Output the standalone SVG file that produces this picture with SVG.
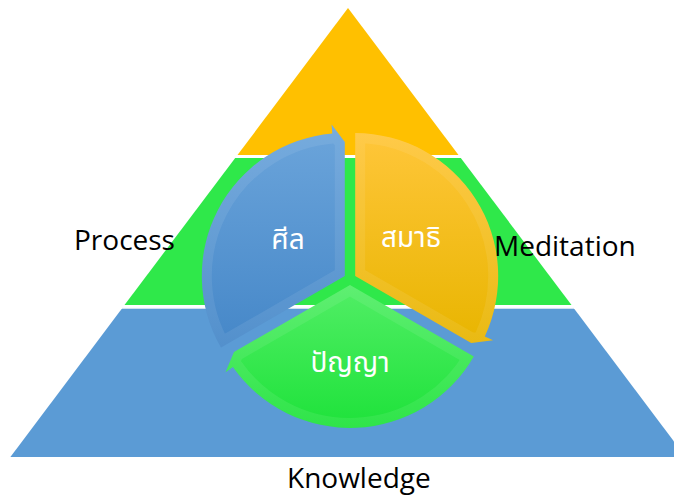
<svg xmlns="http://www.w3.org/2000/svg" width="674" height="498" viewBox="0 0 674 498">
  <style>
    .label { font-family: "Open Sans", "Noto Sans", "Liberation Sans", sans-serif; font-size: 28px; fill: #000000; }
    .thai { font-family: "Noto Sans Thai", "Noto Sans", "DejaVu Sans", sans-serif; font-size: 28px; fill: #ffffff; text-anchor: middle; }
    .bevel { fill: none; stroke: #ffffff; stroke-opacity: 0.08; stroke-width: 20; }
  </style>
  <defs>
    <linearGradient id="gBlue" x1="0" y1="0" x2="0" y2="1">
      <stop offset="0" stop-color="#6CA5DB"/>
      <stop offset="1" stop-color="#4587C8"/>
    </linearGradient>
    <linearGradient id="gOrange" x1="0" y1="0" x2="0" y2="1">
      <stop offset="0" stop-color="#FFC63A"/>
      <stop offset="1" stop-color="#E8B500"/>
    </linearGradient>
    <linearGradient id="gGreen" x1="0" y1="0" x2="0" y2="1">
      <stop offset="0" stop-color="#52EE66"/>
      <stop offset="1" stop-color="#1EE23A"/>
    </linearGradient>
    <path id="pBlue" d="M 344.8 276 L 221 347.5 A 143 143 0 0 1 332.3 133.5 L 331.6 124.6 L 344.8 142 Z"/>
    <path id="pOrange" d="M 355.2 276 L 355.2 133 A 143 143 0 0 1 484.8 336.4 L 493 340.2 L 471.2 343 Z"/>
    <path id="pGreen" d="M 350 285 L 473.8 356.5 A 143 143 0 0 1 232.9 367 L 225.5 372.2 L 234 352 Z"/>
    <clipPath id="cBlue"><use href="#pBlue"/></clipPath>
    <clipPath id="cOrange"><use href="#pOrange"/></clipPath>
    <clipPath id="cGreen"><use href="#pGreen"/></clipPath>
  </defs>

  <g id="pyramid">
    <polygon id="band-top" points="348,8 458.5,155 237.5,155" fill="#FFC000"/>
    <polygon id="band-middle" points="235.2,158 460.8,158 571.5,305 124.5,305" fill="#2FE84A"/>
    <rect x="123" y="305.5" width="450" height="2" fill="#ffffff"/>
    <polygon id="band-bottom" points="121.6,309 574.4,309 674,441.5 674,457 10.4,457" fill="#5B9BD5"/>
    <line x1="122" y1="308.4" x2="574" y2="308.4" stroke="#C9DDF0" stroke-width="1"/>
  </g>

  <g id="connectors"></g>

  <g id="node-sila">
    <use href="#pBlue" fill="url(#gBlue)"/>
    <use href="#pBlue" class="bevel" clip-path="url(#cBlue)"/>
    <text class="thai" x="288" y="249">ศีล</text>
  </g>
  <g id="node-samadhi">
    <use href="#pOrange" fill="url(#gOrange)"/>
    <use href="#pOrange" class="bevel" clip-path="url(#cOrange)"/>
    <text class="thai" x="411" y="247">สมาธิ</text>
  </g>
  <g id="node-panya">
    <use href="#pGreen" fill="url(#gGreen)"/>
    <use href="#pGreen" class="bevel" clip-path="url(#cGreen)"/>
    <text class="thai" x="350" y="372">ปัญญา</text>
  </g>

  <g id="labels">
    <text class="label" x="74" y="250">Process</text>
    <text class="label" x="494" y="256">Meditation</text>
    <text class="label" x="287" y="488">Knowledge</text>
  </g>
</svg>
